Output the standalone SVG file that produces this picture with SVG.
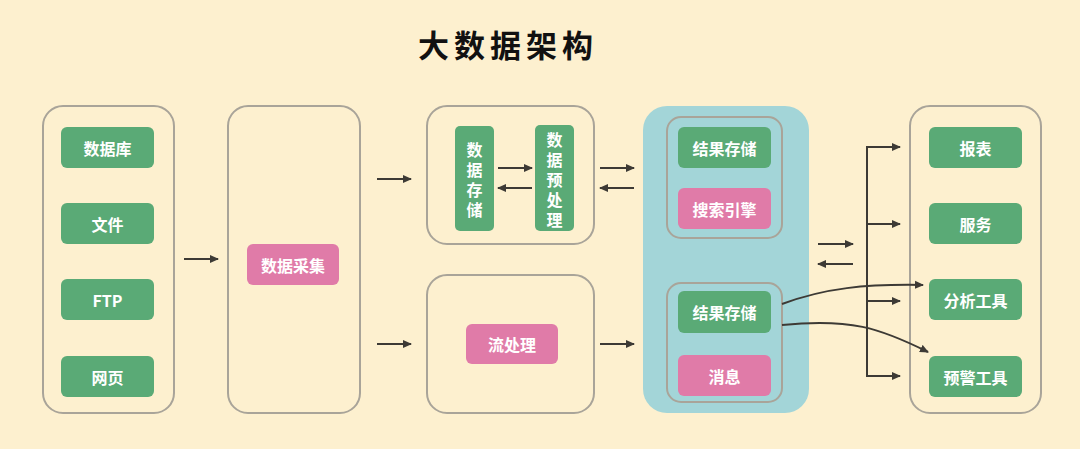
<svg xmlns="http://www.w3.org/2000/svg" width="1080" height="449" viewBox="0 0 1080 449">
<defs>
<marker id="ah" markerWidth="9" markerHeight="9" refX="8" refY="4.5" orient="auto" markerUnits="userSpaceOnUse"><path d="M0,0.5 L9,4.5 L0,8.5 z" fill="#3d3a35"/></marker>
<style>
.frame{fill:none;stroke:#a9a499;stroke-width:2}
.g{fill:#5aaa76}
.p{fill:#e07ba8}
.t{font-family:"Noto Sans CJK SC","Noto Sans",sans-serif;font-size:16px;font-weight:bold;fill:#fff;text-anchor:middle;dominant-baseline:central}
.v{font-family:"Noto Sans CJK SC","Noto Sans",sans-serif;font-size:16px;font-weight:bold;fill:#fff;text-anchor:middle;writing-mode:vertical-rl;letter-spacing:4px}
.ln{fill:none;stroke:#3d3a35;stroke-width:2}
</style>
</defs>
<rect width="1080" height="449" fill="#fdf0cf"/>
<text x="508" y="43" font-family="'Noto Sans CJK SC',sans-serif" font-size="31" font-weight="bold" fill="#111" text-anchor="middle" dominant-baseline="central" letter-spacing="5">大数据架构</text>

<g id="sources">
<rect class="frame" x="43" y="106" width="131" height="307" rx="20"/>
<rect class="g" x="61" y="127" width="93" height="41" rx="6"/><text class="t" x="107.5" y="147.5">数据库</text>
<rect class="g" x="61" y="203" width="93" height="41" rx="6"/><text class="t" x="107.5" y="223.5">文件</text>
<rect class="g" x="61" y="279" width="93" height="41" rx="6"/><text class="t" x="107.5" y="299.5">FTP</text>
<rect class="g" x="61" y="356" width="93" height="41" rx="6"/><text class="t" x="107.5" y="376.5">网页</text>
</g>

<g id="collect">
<rect class="frame" x="228" y="106" width="132" height="307" rx="20"/>
<rect class="p" x="247" y="244" width="92" height="41" rx="6"/><text class="t" x="293" y="264.5">数据采集</text>
</g>

<g id="batch">
<rect class="frame" x="427" y="106" width="167" height="138" rx="20"/>
<rect class="g" x="455" y="126" width="39" height="105" rx="5"/>
<text class="v" x="474.5" y="182">数据存储</text>
<rect class="g" x="535" y="125" width="39" height="106" rx="5"/>
<text class="v" x="554.5" y="182">数据预处理</text>
</g>

<g id="stream">
<rect class="frame" x="427" y="275" width="167" height="138" rx="20"/>
<rect class="p" x="466" y="324" width="92" height="40" rx="6"/><text class="t" x="512" y="344">流处理</text>
</g>

<g id="storage">
<rect x="643" y="106" width="166" height="307" rx="24" fill="#a3d5d8"/>
<rect class="frame" x="667" y="117" width="115" height="121" rx="14"/>
<rect class="g" x="678" y="127" width="93" height="41" rx="6"/><text class="t" x="724.5" y="147.5">结果存储</text>
<rect class="p" x="678" y="188" width="93" height="41" rx="6"/><text class="t" x="724.5" y="208.5">搜索引擎</text>
<rect class="frame" x="667" y="283" width="115" height="119" rx="14"/>
<rect class="g" x="678" y="291" width="93" height="42" rx="6"/><text class="t" x="724.5" y="312">结果存储</text>
<rect class="p" x="678" y="355" width="93" height="41" rx="6"/><text class="t" x="724.5" y="375.5">消息</text>
</g>

<g id="apps">
<rect class="frame" x="910" y="106" width="131" height="307" rx="20"/>
<rect class="g" x="929" y="127" width="93" height="41" rx="6"/><text class="t" x="975.5" y="147.5">报表</text>
<rect class="g" x="929" y="203" width="93" height="41" rx="6"/><text class="t" x="975.5" y="223.5">服务</text>
<rect class="g" x="929" y="279" width="93" height="41" rx="6"/><text class="t" x="975.5" y="299.5">分析工具</text>
<rect class="g" x="929" y="356" width="93" height="41" rx="6"/><text class="t" x="975.5" y="376.5">预警工具</text>
</g>

<g id="connectors">
<path class="ln" d="M184,259 H218" marker-end="url(#ah)"/>
<path class="ln" d="M377,179 H411" marker-end="url(#ah)"/>
<path class="ln" d="M377,344 H411" marker-end="url(#ah)"/>
<path class="ln" d="M498,168 H532" marker-end="url(#ah)"/>
<path class="ln" d="M532,188 H498" marker-end="url(#ah)"/>
<path class="ln" d="M600,168 H634" marker-end="url(#ah)"/>
<path class="ln" d="M634,188 H600" marker-end="url(#ah)"/>
<path class="ln" d="M600,344 H634" marker-end="url(#ah)"/>
<path class="ln" d="M818,244 H853" marker-end="url(#ah)"/>
<path class="ln" d="M853,264 H818" marker-end="url(#ah)"/>
<path class="ln" d="M900,147 H867 V376 H900" marker-end="url(#ah)"/>
<path class="ln" d="M867,147 H900" marker-end="url(#ah)"/>
<path class="ln" d="M867,224 H900" marker-end="url(#ah)"/>
<path class="ln" d="M867,301 H900" marker-end="url(#ah)"/>
<path class="ln" d="M782,304 C825,288 865,284 923,285" marker-end="url(#ah)"/>
<path class="ln" d="M782,325 C850,318 880,328 928,352" marker-end="url(#ah)"/>
</g>
</svg>
